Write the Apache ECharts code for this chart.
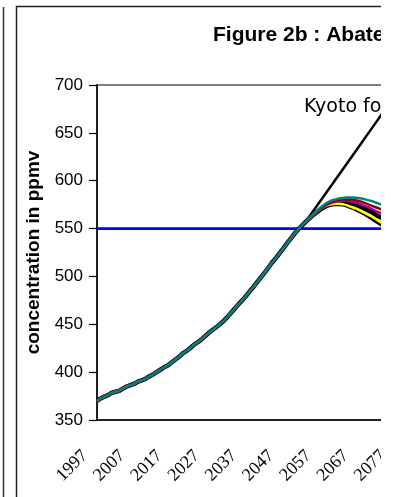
<!DOCTYPE html>
<html>
<head>
<meta charset="utf-8">
<script src="https://cdn.jsdelivr.net/npm/echarts@6/dist/echarts.min.js"></script>
<style>
html,body{margin:0;padding:0;background:#fff;}
#wrap{position:absolute;left:0;top:0;width:381px;height:497px;overflow:hidden;background:#fff;}
#chart{position:absolute;left:0;top:0;width:420px;height:497px;}
</style>
</head>
<body>
<div id="wrap"><div id="chart"></div></div>
<script>
const years = ['1997','1998','1999','2000','2001','2002','2003','2004','2005','2006',
'2007','2008','2009','2010','2011','2012','2013','2014','2015','2016',
'2017','2018','2019','2020','2021','2022','2023','2024','2025','2026',
'2027','2028','2029','2030','2031','2032','2033','2034','2035','2036',
'2037','2038','2039','2040','2041','2042','2043','2044','2045','2046',
'2047','2048','2049','2050','2051','2052','2053','2054','2055','2056',
'2057','2058','2059','2060','2061','2062','2063','2064','2065','2066',
'2067','2068','2069','2070','2071','2072','2073','2074','2075','2076','2077'];

// shared path 1997-2053
const commonPath = [370,372.5,374.5,376,378.5,379.5,380.5,383,385,386.5,
388,390,391.5,393,395.5,397.5,400,402.5,405,407,
410,413,416,419.5,422,425,428.5,431,434,437.5,
441,444,447,450,453.5,457.5,462,466.5,471,475,
479.5,484.5,489,494,499,504,509,514.5,519,524,
529,534.5,539.5,544.5,549,553,557];

// 2054 onwards
const kyotoTail   = [562.5,568,573.5,579,584.5,590,595.5,601,606.5,612,617.5,623,628.5,634,639.5,645,650.5,656,661.5,667,672.5,678];
const tealTail    = [561,565,568.5,572,575,577.5,579.5,580.5,581.5,582,582.5,582.5,582.5,582,581.5,580.5,579.5,578.5,577,575.5,574];
const darkRedTail = [561,564.5,568,571,574,576.5,578.5,579.5,580,580.5,580.5,580.5,580,579,578,576.5,575,573.5,572,570.5,569];
const magentaTail = [560.5,564,567.5,570.5,573,575.5,577,578,579,579,579,578.5,577.5,576.5,575,573.5,572,570,568,566.5,564.5];
const blackTail   = [560.5,564,567,570,572.5,574.5,576,577,577.5,577.5,577,576.5,575.5,574,572.5,570.5,568.5,566.5,564,562,560];
const yellowTail  = [560.5,564,567.5,570.5,573,574.5,575.5,576,576,575.5,574.5,573,571.5,570,568,566,564,562,559.5,557,555];
const black2Tail  = [560.5,564,567,570,572,573.5,574.5,575,575,574.5,573.5,572,570.5,568.5,566.5,564.5,562,559.5,557,554.5,552];

const targetLevel = 550;
const yTicks = {min:350, max:700, step:50};
const titleText = 'Figure 2b : Abatement';
const kyotoLabel = 'Kyoto for ever';
const yAxisName = 'concentration in ppmv';

function path(tail){ return commonPath.concat(tail); }
function line(name, data, color, width){
  return {name:name, type:'line', data:data, showSymbol:false, symbol:'none',
    lineStyle:{color:color, width:width}, itemStyle:{color:color}, silent:true};
}

const chart = echarts.init(document.getElementById('chart'), null, {renderer:'canvas'});
chart.setOption({
  animation:false,
  backgroundColor:'#fff',
  grid:{left:97, top:85, right:25, bottom:77, show:true, borderColor:'#808080', borderWidth:2, backgroundColor:'transparent'},
  xAxis:{type:'category', data:years, boundaryGap:false,
    axisLine:{lineStyle:{color:'#000', width:1.5}},
    axisTick:{show:false},
    splitLine:{show:false},
    axisLabel:{interval:9, rotate:45, margin:21, padding:[0,17,0,0],
      fontFamily:'Liberation Serif', fontSize:18, color:'#000'}},
  yAxis:{type:'value', min:yTicks.min, max:yTicks.max, interval:yTicks.step,
    axisLine:{show:true, lineStyle:{color:'#000', width:1.5}},
    axisTick:{show:true, length:8, lineStyle:{color:'#000', width:1.2}},
    splitLine:{show:false},
    axisLabel:{margin:14, fontFamily:'Liberation Sans', fontSize:17, color:'#000'},
    name:yAxisName, nameLocation:'middle', nameGap:52,
    nameTextStyle:{fontFamily:'Liberation Sans', fontWeight:'bold', fontSize:19, color:'#000'}},
  series:[
    line('550', years.map(()=>targetLevel), '#0000ff', 2.8),
    line('Kyoto', path(kyotoTail), '#000', 2.5),
    line('black', path(blackTail), '#000', 4.5),
    line('black2', path(black2Tail), '#000', 3),
    line('yellow', path(yellowTail), '#ffff00', 2.5),
    line('magenta', path(magentaTail), '#a000a0', 2.5),
    line('darkred', path(darkRedTail), '#8b0000', 2.5),
    line('teal', path(tealTail), '#008080', 2.5)
  ],
  graphic:[
    {type:'line', shape:{x1:3.5,y1:7,x2:3.5,y2:497}, style:{stroke:'#333', lineWidth:1.5}, silent:true},
    {type:'polyline', shape:{points:[[16.5,497],[16.5,6.5],[420,6.5]]}, style:{stroke:'#222', lineWidth:1.5, fill:null}, silent:true},
    {type:'text', left:213, top:25, style:{text:titleText, font:'bold 21px "Liberation Sans"', fill:'#000'}, silent:true},
    {type:'text', left:304, top:98, style:{text:kyotoLabel, font:'19px "DejaVu Sans"', fill:'#000'}, silent:true}
  ]
});
</script>
</body>
</html>
